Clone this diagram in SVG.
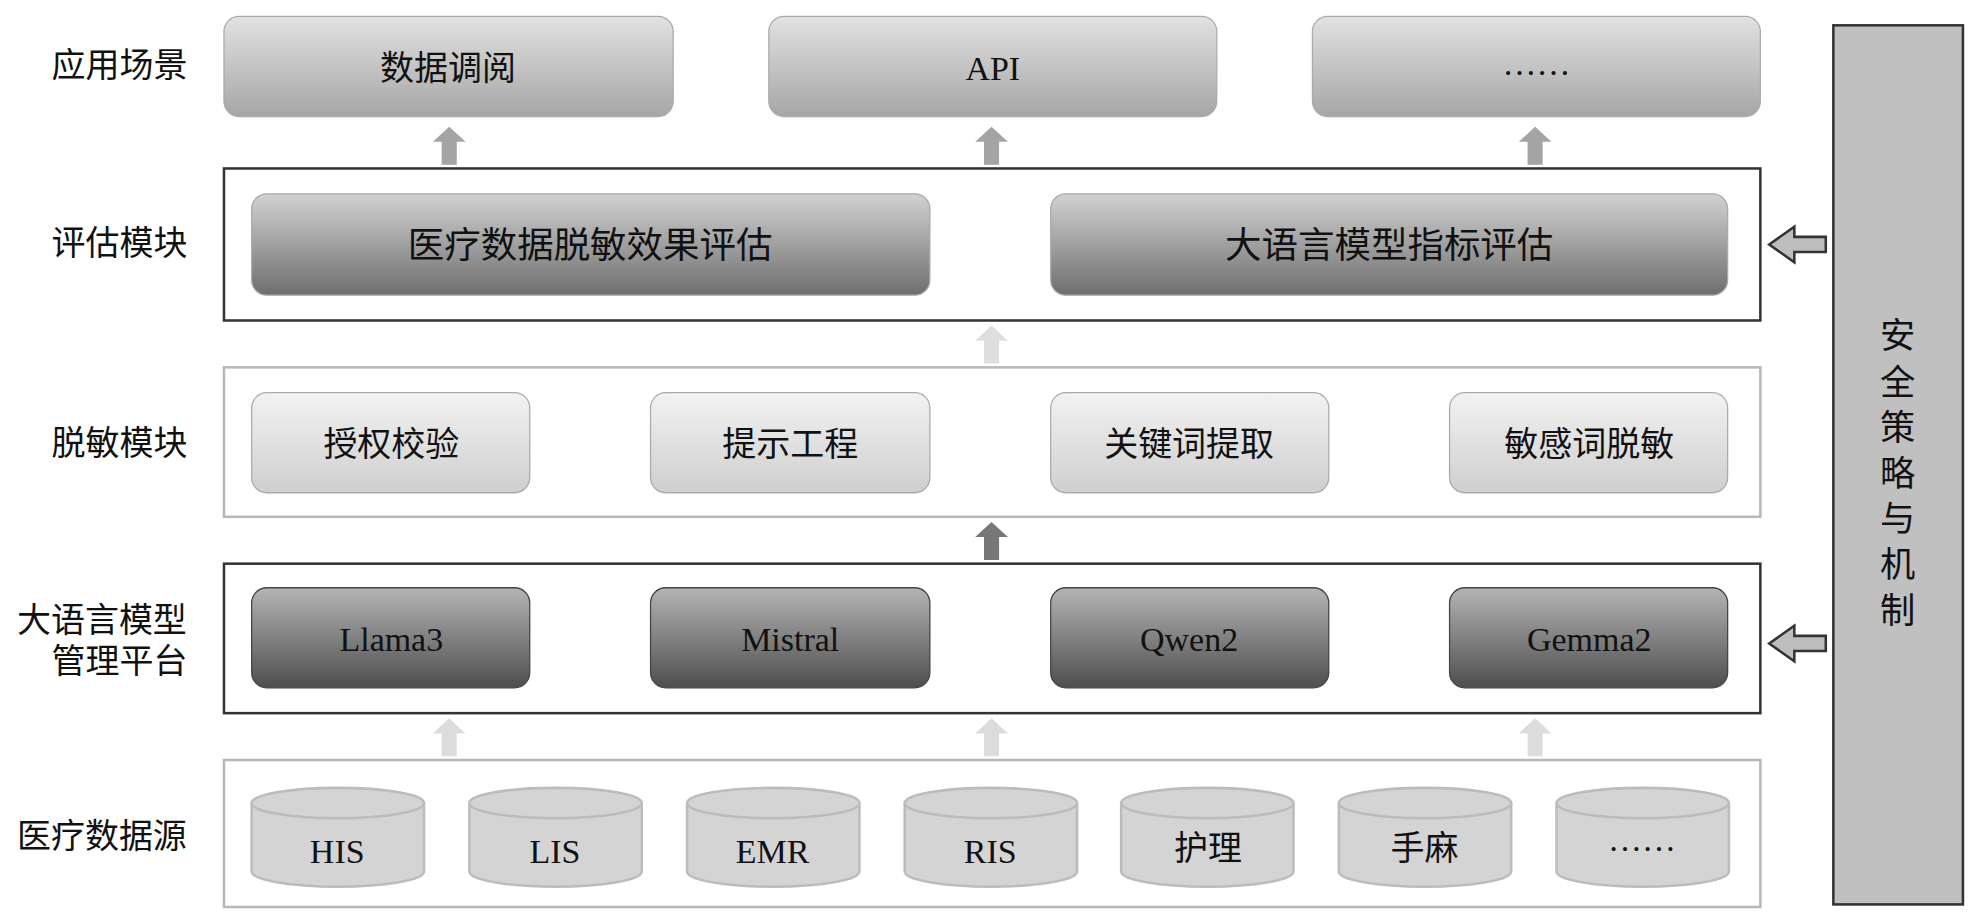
<svg xmlns="http://www.w3.org/2000/svg" width="1973" height="912" viewBox="0 0 1973 912">
<defs>
<linearGradient id="g1" x1="0" y1="0" x2="0" y2="1"><stop offset="0" stop-color="#e2e2e2"/><stop offset="1" stop-color="#a6a6a6"/></linearGradient>
<linearGradient id="g2" x1="0" y1="0" x2="0" y2="1"><stop offset="0" stop-color="#d2d2d2"/><stop offset="1" stop-color="#6e6e6e"/></linearGradient>
<linearGradient id="g3" x1="0" y1="0" x2="0" y2="1"><stop offset="0" stop-color="#f2f2f2"/><stop offset="1" stop-color="#cfcfcf"/></linearGradient>
<linearGradient id="g4" x1="0" y1="0" x2="0" y2="1"><stop offset="0" stop-color="#b4b4b4"/><stop offset="1" stop-color="#4e4e4e"/></linearGradient>
<path id="up" d="M-6,30 V12 H-13 L0,0 L13,12 H6 V30 Z"/>
<path id="left" d="M0,0 L20,-14 V-6 H45 V6 H20 V14 Z"/>
<g id="cyl"><path d="M0,12 V66 A68.5,12 0 0 0 137,66 V12" fill="#d4d4d4" stroke="#bcbcbc" stroke-width="2"/><ellipse cx="68.5" cy="12" rx="68.5" ry="12" fill="#d4d4d4" stroke="#bcbcbc" stroke-width="2"/></g>
</defs>
<style>
.t{font-family:"Liberation Serif","Noto Sans CJK SC",serif;font-size:27px;fill:#111;text-anchor:middle;dominant-baseline:central}
.e{font-size:27px}
.frameD{fill:#fff;stroke:#333;stroke-width:2}
.frameL{fill:#fff;stroke:#b8b8b8;stroke-width:2}
.b{stroke:#aaa;stroke-width:1}
</style>
<g transform="scale(1.2583,1.2667)">
<g id="labels">
<text class="t" x="95" y="52">应用场景</text>
<text class="t" x="95" y="192">评估模块</text>
<text class="t" x="95" y="350">脱敏模块</text>
<text class="t" x="81" y="490">大语言模型</text>
<text class="t" x="95" y="522">管理平台</text>
<text class="t" x="81" y="660">医疗数据源</text>
</g>
<g id="frames">
<rect class="frameD" x="178" y="133" width="1221" height="120"/>
<rect class="frameL" x="178" y="290" width="1221" height="118"/>
<rect class="frameD" x="178" y="445" width="1221" height="118"/>
<rect class="frameL" x="178" y="600" width="1221" height="116" stroke="#aaa"/>
</g>
<g id="app">
<rect class="b" x="178" y="13" width="357" height="79" rx="12" fill="url(#g1)"/><text class="t" x="356" y="54">数据调阅</text>
<rect class="b" x="611" y="13" width="356" height="79" rx="12" fill="url(#g1)"/><text class="t e" x="789" y="54">API</text>
<rect class="b" x="1043" y="13" width="356" height="79" rx="12" fill="url(#g1)"/><text class="t" x="1221" y="50">……</text>
</g>
<g id="eval">
<rect class="b" x="200" y="153" width="539" height="80" rx="12" fill="url(#g2)"/><text class="t" x="469" y="194" style="font-size:29px">医疗数据脱敏效果评估</text>
<rect class="b" x="835" y="153" width="538" height="80" rx="12" fill="url(#g2)"/><text class="t" x="1104" y="194" style="font-size:29px">大语言模型指标评估</text>
</g>
<g id="desens">
<rect class="b" x="200" y="310" width="221" height="79" rx="12" fill="url(#g3)"/><text class="t" x="311" y="351">授权校验</text>
<rect class="b" x="517" y="310" width="222" height="79" rx="12" fill="url(#g3)"/><text class="t" x="628" y="351">提示工程</text>
<rect class="b" x="835" y="310" width="221" height="79" rx="12" fill="url(#g3)"/><text class="t" x="945" y="351">关键词提取</text>
<rect class="b" x="1152" y="310" width="221" height="79" rx="12" fill="url(#g3)"/><text class="t" x="1263" y="351">敏感词脱敏</text>
</g>
<g id="llm">
<rect x="200" y="464" width="221" height="79" rx="12" fill="url(#g4)" stroke="#444"/><text class="t e" x="311" y="505">Llama3</text>
<rect x="517" y="464" width="222" height="79" rx="12" fill="url(#g4)" stroke="#444"/><text class="t e" x="628" y="505">Mistral</text>
<rect x="835" y="464" width="221" height="79" rx="12" fill="url(#g4)" stroke="#444"/><text class="t e" x="945" y="505">Qwen2</text>
<rect x="1152" y="464" width="221" height="79" rx="12" fill="url(#g4)" stroke="#444"/><text class="t e" x="1263" y="505">Gemma2</text>
</g>
<g id="sources">
<use href="#cyl" x="200" y="622"/><text class="t" x="268" y="672">HIS</text>
<use href="#cyl" x="373" y="622"/><text class="t" x="441" y="672">LIS</text>
<use href="#cyl" x="546" y="622"/><text class="t" x="614" y="672">EMR</text>
<use href="#cyl" x="719" y="622"/><text class="t" x="787" y="672">RIS</text>
<use href="#cyl" x="891" y="622"/><text class="t" x="960" y="670">护理</text>
<use href="#cyl" x="1064" y="622"/><text class="t" x="1132" y="670">手麻</text>
<use href="#cyl" x="1237" y="622"/><text class="t" x="1305" y="663">……</text>
</g>
<g id="security">
<rect x="1457" y="20" width="103" height="694" fill="#c0c0c0" stroke="#333" stroke-width="2"/>
<text class="t" x="1508" y="265" style="font-size:28px">安</text>
<text class="t" x="1508" y="302" style="font-size:28px">全</text>
<text class="t" x="1508" y="338" style="font-size:28px">策</text>
<text class="t" x="1508" y="374" style="font-size:28px">略</text>
<text class="t" x="1508" y="410" style="font-size:28px">与</text>
<text class="t" x="1508" y="446" style="font-size:28px">机</text>
<text class="t" x="1508" y="482" style="font-size:28px">制</text>
</g>
<g id="connectors">
<use href="#up" x="357" y="100" fill="#a4a4a4"/>
<use href="#up" x="788" y="100" fill="#a4a4a4"/>
<use href="#up" x="1220" y="100" fill="#a4a4a4"/>
<use href="#up" x="788" y="257" fill="#dedede"/>
<use href="#up" x="788" y="412" fill="#777"/>
<use href="#up" x="357" y="567" fill="#dcdcdc"/>
<use href="#up" x="788" y="567" fill="#dcdcdc"/>
<use href="#up" x="1220" y="567" fill="#dcdcdc"/>
<use href="#left" x="1406" y="193" fill="#bdbdbd" stroke="#333" stroke-width="2"/>
<use href="#left" x="1406" y="508" fill="#bdbdbd" stroke="#333" stroke-width="2"/>
</g>
</g>
</svg>
